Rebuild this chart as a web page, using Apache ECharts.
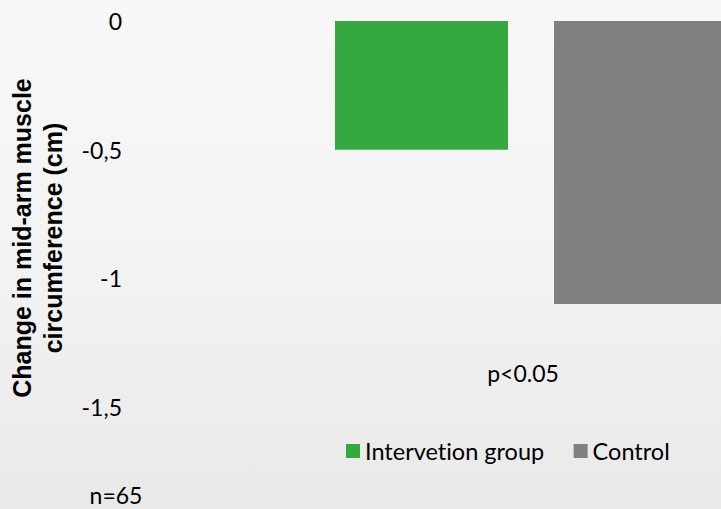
<!DOCTYPE html>
<html>
<head>
<meta charset="utf-8">
<script src="https://cdn.jsdelivr.net/npm/echarts@6/dist/echarts.min.js"></script>
<style>html,body{margin:0;padding:0;}#c{width:721px;height:509px;}
#c text{font-variant-ligatures:none;font-feature-settings:"liga" 0;}</style>
</head>
<body>
<div id="c"></div>
<script>
const categories = ['Mid-arm muscle circumference'];
const seriesNames = ['Intervetion group', 'Control'];
const interventionValues = [-0.5];
const controlValues = [-1.1];
const yTicks = { min: -1.5, max: 0, interval: 0.5 };
const yAxisTitle = 'Change in mid-arm muscle\ncircumference (cm)';
const pValueText = 'p<0.05';
const sampleText = 'n=65';

const chart = echarts.init(document.getElementById('c'), null, { renderer: 'svg' });
chart.setOption({
  backgroundColor: {
    type: 'linear', x: 0, y: 0, x2: 0, y2: 1,
    colorStops: [
      { offset: 0, color: '#f8f8f8' },
      { offset: 0.5, color: '#f3f3f3' },
      { offset: 1, color: '#e9e9e9' }
    ]
  },
  animation: false,
  grid: { left: 335, top: 21, width: 392, height: 386, outerBoundsMode: 'none' },
  xAxis: {
    type: 'category',
    data: categories,
    show: false
  },
  yAxis: {
    type: 'value',
    min: yTicks.min, max: yTicks.max, interval: yTicks.interval,
    axisLine: { show: false },
    axisTick: { show: false },
    splitLine: { show: false },
    axisLabel: {
      margin: 213,
      fontFamily: 'Lato',
      fontSize: 23,
      color: '#000',
      formatter: v => String(v).replace('.', ',')
    }
  },
  legend: {
    data: seriesNames,
    left: 346, top: 439,
    padding: 0,
    icon: 'rect',
    itemWidth: 14, itemHeight: 14,
    itemGap: 29,
    textStyle: { fontFamily: 'Lato', fontSize: 23.5, color: '#000', padding: [0, 0, 0, 0] }
  },
  series: [
    {
      name: seriesNames[0], type: 'bar', data: interventionValues,
      itemStyle: { color: '#35a93f' },
      barWidth: 173, barGap: '26.6%'
    },
    {
      name: seriesNames[1], type: 'bar', data: controlValues,
      itemStyle: { color: '#808080' },
      barWidth: 173
    }
  ],
  graphic: [
    { type: 'text', x: 37, y: 238, rotation: Math.PI / 2,
      style: { text: yAxisTitle, fontFamily: 'Liberation Sans', fontWeight: 'bold', fontSize: 25,
               lineHeight: 31, fill: '#000', align: 'center', verticalAlign: 'middle' } },
    { type: 'text', x: 523, y: 373,
      style: { text: pValueText, fontFamily: 'Lato', fontSize: 23, fill: '#000', align: 'center', verticalAlign: 'middle' } },
    { type: 'text', x: 116, y: 495,
      style: { text: sampleText, fontFamily: 'Lato', fontSize: 23, fill: '#000', align: 'center', verticalAlign: 'middle' } }
  ]
});
</script>
</body>
</html>
